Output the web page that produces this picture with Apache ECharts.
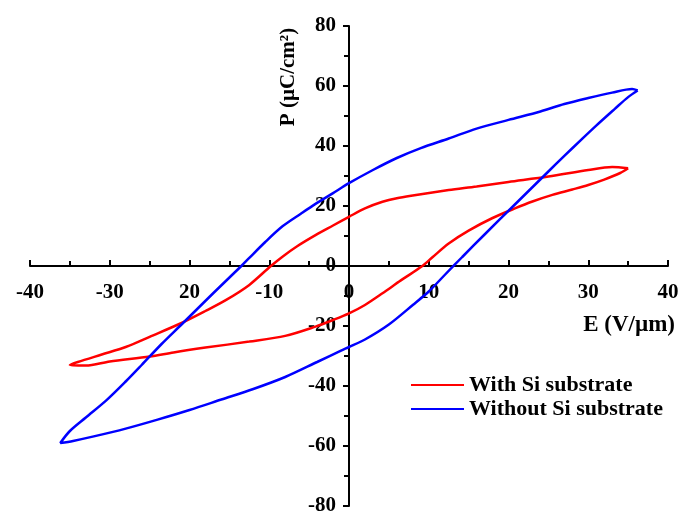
<!DOCTYPE html>
<html>
<head>
<meta charset="utf-8">
<script src="https://cdn.jsdelivr.net/npm/echarts@6/dist/echarts.min.js"></script>
<style>html,body{margin:0;padding:0;background:#fff}#c{width:685px;height:514px}</style>
</head>
<body>
<div id="c"></div>
<script>
// Tick labels (as printed in the reference)
const xTickLabels = ['-40', '-30', '20', '-10', '0', '10', '20', '30', '40'];
const yTickLabels = ['-80', '-60', '-40', '-20', '0', '20', '40', '60', '80'];
const seriesNames = ['With Si substrate', 'Without Si substrate'];

// With Si substrate: E (V/µm) and P (µC/cm²) along the loop
const redE = [35, 33, 30, 25, 20, 16, 12.5, 8, 6, 4.2, 2, 0, -2, -4.2, -6.5, -8.3, -9.8, -12.5, -15.4, -18, -21, -25, -28, -31, -34, -35,
  -33, -30, -25, -22, -18, -12.5, -8, -4.2, -2, 0, 2, 4.2, 6.5, 9.2, 10.5, 12.5, 15, 18, 20.8, 23, 25.5, 28, 30, 32, 34, 35];
const redP = [32.6, 33, 32, 29.8, 28, 26.5, 25.3, 23.5, 22.6, 21.4, 19.2, 16.4, 13.5, 10.3, 6.6, 3.2, 0, -6.3, -11.3, -15, -19, -23.6, -27, -29.5, -32, -33,
  -33.2, -31.8, -30.2, -28.8, -27.2, -25.2, -23.3, -20.2, -18, -15.8, -13, -9.1, -4.8, 0, 3, 7.5, 11.8, 16, 19.2, 21.5, 23.7, 25.5, 27, 28.8, 31, 32.6];

// Without Si substrate
const blueE = [36.2, 35.5, 33, 30, 27, 24, 20, 16, 12.5, 9, 6, 3, 0, -2, -4.2, -6, -8.3, -10.5, -12.5, -13.5, -17, -21, -23.5, -26, -28, -30.4, -33, -35, -36.2,
  -34.6, -32, -28, -24, -20, -16, -12, -8, -4, -1, 0, 2, 5, 8, 10, 12, 14.2, 17, 20.8, 25, 27, 29.2, 31, 33.3, 35, 36.2];
const blueP = [58.5, 59, 57.8, 56, 54, 51.5, 48.7, 45.8, 42.5, 39.3, 36, 32, 27.6, 24.3, 20.7, 17.5, 13.3, 8, 2.7, 0, -9, -19.5, -26, -33, -38.5, -44.7, -50.5, -55, -59,
  -58.3, -56.8, -54.2, -51.2, -48, -44.5, -41, -37, -32, -28.2, -27, -24.5, -19.5, -13, -8.5, -3, 3, 10.5, 20.5, 31.5, 36.7, 42.3, 46.8, 52.3, 56.3, 58.5];

const zip = (a, b) => a.map((v, i) => [v, b[i]]);
const font = "'Liberation Serif', 'Times New Roman', serif";

const chart = echarts.init(document.getElementById('c'));
chart.setOption({
  animation: false,
  backgroundColor: '#fff',
  grid: { left: 30, right: 17, top: 26, bottom: 8, containLabel: false, outerBoundsMode: 'none' },
  xAxis: {
    type: 'value', min: -40, max: 40, interval: 10,
    axisLine: { onZero: true, lineStyle: { color: '#000', width: 2 } },
    axisTick: { inside: true, length: 6, lineStyle: { color: '#000', width: 2 } },
    minorTick: { show: true, splitNumber: 2, length: 5, lineStyle: { color: '#000', width: 2 } },
    splitLine: { show: false },
    axisLabel: {
      margin: -224, fontFamily: font, fontWeight: 'bold', fontSize: 21, color: '#000',
      formatter: v => xTickLabels[Math.round((v + 40) / 10)]
    },
    name: 'E (V/µm)', nameLocation: 'end', nameGap: 7,
    nameTextStyle: { fontFamily: font, fontWeight: 'bold', fontSize: 23, color: '#000', align: 'right', verticalAlign: 'top', padding: [48, 0, 0, 0] }
  },
  yAxis: {
    type: 'value', min: -80, max: 80, interval: 20,
    axisLine: { onZero: true, lineStyle: { color: '#000', width: 2 } },
    axisTick: { inside: false, length: 6, lineStyle: { color: '#000', width: 2 } },
    minorTick: { show: true, splitNumber: 2, length: 5, lineStyle: { color: '#000', width: 2 } },
    splitLine: { show: false },
    axisLabel: {
      margin: -306, fontFamily: font, fontWeight: 'bold', fontSize: 21, color: '#000',
      formatter: v => yTickLabels[Math.round((v + 80) / 20)]
    }
  },
  legend: {
    left: 406, top: 369, orient: 'vertical', itemGap: 2,
    icon: 'rect', itemWidth: 53, itemHeight: 2,
    textStyle: { fontFamily: font, fontWeight: 'bold', fontSize: 22, color: '#000', padding: [0, 0, 0, 0] },
    data: seriesNames
  },
  graphic: [{
    type: 'text', x: 289, y: 77, rotation: Math.PI / 2,
    style: { text: 'P (µC/cm²)', font: "bold 21px " + font, fill: '#000', align: 'center', verticalAlign: 'middle' }
  }],
  series: [
    { name: seriesNames[0], type: 'line', data: zip(redE, redP), symbol: 'none', smooth: 0.3,
      color: '#ff0000', lineStyle: { color: '#ff0000', width: 2.5 } },
    { name: seriesNames[1], type: 'line', data: zip(blueE, blueP), symbol: 'none', smooth: 0.3,
      color: '#0000ff', lineStyle: { color: '#0000ff', width: 2.5 } }
  ]
});
</script>
</body>
</html>
